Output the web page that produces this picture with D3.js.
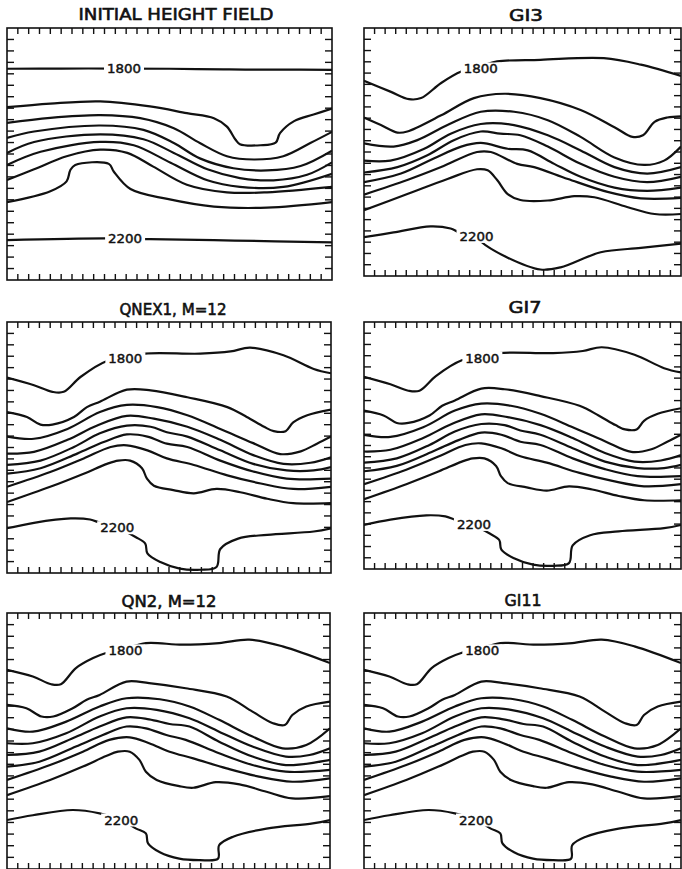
<!DOCTYPE html>
<html>
<head>
<meta charset="utf-8">
<script src="https://cdn.jsdelivr.net/npm/d3@7"></script>
<style>
  html, body { margin: 0; padding: 0; background: #fff; }
  svg { display: block; }
</style>
</head>
<body>
<svg id="chart" width="682" height="869"></svg>
<script>
// ---------------- DATA ----------------
// Contour levels (m); grid is 30 x 23 units (x east, y rows from north edge)
const levels = [1800, 1850, 1900, 1950, 2000, 2050, 2100, 2150, 2200];
const panelTitles = ["INITIAL HEIGHT FIELD", "GI3", "QNEX1, M=12", "GI7", "QN2, M=12", "GI11"];
const gridX = 30, gridY = 23, tickRows = 22;

const initialField = [
  [[0,3.72],[5,3.7],[10,3.7],[15,3.72],[20,3.78],[25,3.8],[30,3.82]],
  [[0,7.23],[4,6.9],[8.6,6.7],[13.2,7.16],[16.6,7.77],[19.1,8.23],[20.3,9.0],[21.1,10.2],[21.5,10.6],[23.4,10.7],[24.8,10.46],[25.2,9.6],[26.5,8.5],[28.3,7.9],[30,7.35]],
  [[0,8.66],[4,8.2],[8.6,7.95],[12.3,8.23],[15.4,9.15],[17.8,10.5],[20.3,11.7],[22.8,12.0],[25.5,11.7],[28,10.5],[30,9.48]],
  [[0,10.03],[2.5,9.45],[8.6,8.9],[12.6,9.3],[15.4,10.5],[17.8,11.9],[20.9,12.8],[24,13.0],[27.1,12.6],[30,11.2]],
  [[0,11.4],[2.5,10.4],[8.6,9.7],[12.6,10.15],[15.4,11.4],[18.5,12.9],[21.5,13.7],[24.6,13.9],[27.7,13.4],[30,12.26]],
  [[0,12.5],[3.1,11.3],[8.6,10.4],[11.7,10.7],[15.1,12.3],[18.5,13.9],[21.5,14.5],[25.5,14.5],[30,13.3]],
  [[0,13.87],[2.5,12.9],[5.5,11.7],[8.6,11.1],[11.1,11.4],[13.5,12.65],[16.6,14.3],[20.3,15.0],[24,15.0],[30,14.5]],
  [[0,15.9],[4.0,14.9],[5.5,14.0],[5.85,12.96],[6.3,12.5],[9.4,12.4],[9.85,13.1],[11.4,14.7],[14.8,15.6],[19.1,16.3],[24,16.4],[30,15.9]],
  [[0,19.36],[9,19.2],[13.2,19.27],[21,19.4],[30,19.57]]
];
const initialLabels = [[10.8, 3.72, 1800], [10.9, 19.25, 2200]];

const gi3Field = [
  [[0,4.9],[2.5,5.9],[4.26,6.6],[5.4,6.5],[7.3,5.1],[9.2,4.04],[11,3.55],[12.6,3.1],[16.7,2.95],[22.7,2.8],[26.2,3.4],[30,4.45]],
  [[0,8.3],[1.6,9.0],[3.16,9.7],[4.1,9.6],[7.3,8.1],[10.4,6.5],[13.3,6.1],[16.7,6.5],[20.5,7.6],[23.7,9.2],[25.4,10.1],[26.4,9.95],[27.5,8.7],[28.7,8.3],[30,8.2]],
  [[0,10.7],[2.8,11.0],[5.05,10.4],[7.9,9.0],[11.05,7.77],[14.2,7.77],[17.4,8.55],[20.5,10.1],[23.7,12.0],[26.5,12.7],[28.4,12.3],[30,11.0]],
  [[0,12.3],[2.5,12.3],[5.7,11.2],[8.2,9.8],[11.05,8.9],[14.2,9.0],[17.4,9.95],[20.5,11.35],[23.7,12.9],[26.8,13.5],[30,12.9]],
  [[0,13.4],[3.16,12.9],[6.0,11.8],[8.5,10.4],[11.05,9.6],[12.9,9.8],[14.8,9.95],[17.4,11.0],[20.5,12.6],[23.7,13.8],[26.8,14.3],[30,13.8]],
  [[0,14.3],[3.5,13.5],[6.6,12.1],[9.2,11.0],[11.05,10.66],[13.6,11.2],[15.5,11.35],[18,12.6],[20.5,13.8],[23.7,14.8],[26.8,15.1],[30,14.8]],
  [[0,15.45],[4.1,14.1],[7.3,12.9],[10.7,11.5],[12,11.5],[14.5,12.6],[16.1,12.9],[19.3,14.0],[23.05,15.2],[26.2,15.8],[30,15.76]],
  [[0,16.9],[4.1,15.4],[7.9,14.0],[10.7,13.1],[11.7,13.2],[12.6,14.1],[13.6,15.4],[14.8,15.95],[17.4,16.0],[19.9,15.6],[21.8,15.7],[24.9,16.6],[27.5,17.25],[30,17.25]],
  [[0,19.4],[2.8,18.96],[6.3,18.4],[8.2,18.6],[9.0,18.96],[10.65,19.33],[11.05,19.8],[13.6,21.3],[16.7,22.4],[18.6,22.2],[22.4,20.8],[26.2,20.4],[30,20.0]]
];
const gi3Labels = [[11.05, 3.8, 1800], [10.65, 19.33, 2200]];

const qnex1Field = [
  [[0,5.1],[2.5,5.8],[4.2,6.4],[5.25,6.4],[6.8,5.04],[9.26,3.57],[10.96,3.3],[12.8,2.9],[17.9,2.9],[20.7,2.7],[22.5,2.35],[25.6,3.05],[28.4,4.3],[30,4.7]],
  [[0,8.25],[1.85,8.7],[3.1,9.4],[4.2,9.4],[6.2,8.7],[7.4,7.8],[8.6,7.3],[11.1,6.2],[13.3,6.26],[16.7,6.9],[20.4,7.8],[22.2,8.7],[23.8,9.6],[24.7,10.0],[25.8,10.0],[26.5,9.2],[27.8,8.55],[30,8.03]],
  [[0,10.5],[2.5,10.7],[5.6,9.8],[8.6,8.25],[11.1,7.6],[13.9,7.8],[16.7,8.55],[19.75,9.8],[22.8,11.1],[25.3,12.1],[27.2,11.85],[28.7,11.15],[30,10.5]],
  [[0,12.06],[2.5,11.9],[5.6,10.8],[8.3,9.5],[11.1,8.6],[13.6,8.86],[16.7,9.6],[19.75,10.8],[22.8,12.2],[25.6,13.0],[28.1,12.9],[30,12.4]],
  [[0,13.1],[3.1,12.7],[6.2,11.45],[8.6,10.2],[11.1,9.5],[13.3,9.6],[14.8,10.1],[16.7,10.5],[19.75,11.76],[22.8,13.0],[25.9,13.6],[28.4,13.6],[30,13.3]],
  [[0,13.9],[3.1,13.4],[6.5,12.06],[8.95,11.0],[11.1,10.3],[13.0,10.5],[14.8,11.15],[16.7,11.45],[19.75,12.7],[22.8,13.7],[25.9,14.35],[30,14.35]],
  [[0,15.1],[4.0,13.75],[7.1,12.5],[9.6,11.45],[11.1,11.3],[13.0,11.76],[14.8,12.5],[17.3,13.1],[20.4,14.05],[23.5,14.8],[26.5,15.3],[30,15.1]],
  [[0,16.5],[4.0,15.1],[7.1,13.9],[9.26,13.0],[10.3,12.7],[11.4,12.7],[12.5,13.4],[12.96,14.36],[13.6,15.0],[15.4,15.4],[17.3,15.7],[19.4,15.3],[21.6,15.6],[24.1,16.2],[26.5,16.6],[30,16.6]],
  [[0,18.9],[2.5,18.4],[5.9,18.0],[7.7,18.1],[8.6,18.4],[10.2,18.85],[11.9,19.7],[12.8,20.3],[13.0,21.2],[14.2,22.0],[16.0,22.6],[17.9,22.7],[19.4,22.45],[19.75,20.8],[21.4,19.85],[24.1,19.5],[28.4,19.2],[30,18.9]]
];
const qnex1Labels = [[10.96, 3.36, 1800], [10.2, 18.85, 2200]];

const gi7Field = [
  [[0,5.1],[2.5,5.8],[4.2,6.4],[5.25,6.4],[6.8,5.04],[9.26,3.57],[10.96,3.3],[12.8,2.9],[17.9,2.9],[20.7,2.7],[22.5,2.35],[25.6,3.05],[28.4,4.3],[30,4.7]],
  [[0,8.25],[1.85,8.7],[3.1,9.4],[4.2,9.4],[6.2,8.7],[7.4,7.8],[8.6,7.3],[11.1,6.2],[13.3,6.26],[16.7,6.9],[20.4,7.8],[22.2,8.7],[23.8,9.6],[24.7,10.0],[25.8,10.0],[26.5,9.2],[27.8,8.55],[30,8.03]],
  [[0,10.5],[2.5,10.7],[5.6,9.8],[8.6,8.25],[11.1,7.6],[13.9,7.8],[16.7,8.55],[19.75,9.8],[22.8,11.1],[25.3,12.1],[27.2,11.85],[28.7,11.15],[30,10.5]],
  [[0,12.06],[2.5,11.9],[5.6,10.8],[8.3,9.5],[11.1,8.6],[13.6,8.86],[16.7,9.6],[19.75,10.8],[22.8,12.2],[25.6,13.0],[28.1,12.9],[30,12.4]],
  [[0,13.1],[3.1,12.7],[6.2,11.45],[8.6,10.2],[11.1,9.5],[13.3,9.6],[14.8,10.1],[16.7,10.5],[19.75,11.76],[22.8,13.0],[25.9,13.6],[28.4,13.6],[30,13.3]],
  [[0,13.9],[3.1,13.4],[6.5,12.06],[8.95,11.0],[11.1,10.3],[13.0,10.5],[14.8,11.15],[16.7,11.45],[19.75,12.7],[22.8,13.7],[25.9,14.35],[30,14.35]],
  [[0,15.1],[4.0,13.75],[7.1,12.5],[9.6,11.45],[11.1,11.3],[13.0,11.76],[14.8,12.5],[17.3,13.1],[20.4,14.05],[23.5,14.8],[26.5,15.3],[30,15.1]],
  [[0,16.5],[4.0,15.1],[7.1,13.9],[9.26,13.0],[10.3,12.7],[11.4,12.7],[12.5,13.4],[12.96,14.36],[13.6,15.0],[15.4,15.4],[17.3,15.7],[19.4,15.3],[21.6,15.6],[24.1,16.2],[26.5,16.6],[30,16.6]],
  [[0,18.9],[2.5,18.4],[5.9,18.0],[7.7,18.1],[8.6,18.4],[10.2,18.85],[11.9,19.7],[12.8,20.3],[13.0,21.2],[14.2,22.0],[16.0,22.6],[17.9,22.7],[19.4,22.45],[19.75,20.8],[21.4,19.85],[24.1,19.5],[28.4,19.2],[30,18.9]]
];
const gi7Labels = [[11.2, 3.36, 1800], [10.4, 18.85, 2200]];

const qn2Field = [
  [[0,5.1],[2.4,5.7],[4.1,6.4],[5.0,6.4],[6.4,4.95],[8.0,4.05],[9.2,3.6],[11,3.2],[12.9,2.7],[16.3,2.85],[19.7,2.7],[22.5,2.4],[25.6,3.0],[30,4.5]],
  [[0,8.26],[1.8,8.56],[3.2,9.3],[4.3,9.3],[6.1,8.56],[7.4,7.8],[8.6,7.36],[11.1,6.16],[13.2,6.3],[16.6,6.76],[20.4,7.5],[22.8,8.86],[24.7,9.9],[25.8,10.06],[26.5,9.16],[27.8,8.4],[30,7.96]],
  [[0,10.36],[2.4,10.66],[5.5,9.76],[8.6,8.4],[11.1,7.66],[14.2,7.75],[16.95,8.4],[19.7,9.6],[22.8,11.1],[25.6,12.16],[27.8,11.86],[30,10.36]],
  [[0,11.7],[2.4,11.7],[5.5,10.8],[8.6,9.3],[11.1,8.56],[13.9,8.7],[16.95,9.46],[19.7,10.66],[22.8,12.0],[25.9,12.9],[28.1,12.76],[30,12.16]],
  [[0,12.76],[3.0,12.46],[6.1,11.26],[8.6,10.2],[11.1,9.37],[13.2,9.55],[15.1,9.97],[16.95,10.2],[19.7,11.56],[22.8,12.9],[25.9,13.66],[30,13.2]],
  [[0,13.8],[3.0,13.36],[6.4,12.0],[8.9,10.96],[11.1,10.2],[12.9,10.36],[14.8,10.96],[16.6,11.4],[19.7,12.6],[22.8,13.66],[25.9,14.26],[30,14.1]],
  [[0,15.0],[4.0,13.66],[7.05,12.46],[9.5,11.4],[11.4,11.17],[13.2,11.7],[15.1,12.46],[17.3,13.06],[20.4,13.96],[23.4,14.7],[26.5,15.16],[30,14.86]],
  [[0,16.36],[4.0,15.0],[7.05,13.8],[9.2,12.85],[10.3,12.46],[11.4,12.46],[12.3,13.2],[12.9,14.26],[13.9,15.0],[16.0,15.56],[17.3,15.7],[19.4,15.2],[21.6,15.4],[24.1,16.06],[26.5,16.66],[30,16.46]],
  [[0,18.6],[2.4,18.17],[6.1,17.7],[8.6,18.0],[10.6,18.6],[12.0,19.37],[12.9,19.8],[13.1,20.7],[14.2,21.5],[16.0,22.07],[17.9,22.2],[19.6,22.07],[19.7,20.87],[21.0,20.1],[24.1,19.37],[28.4,18.9],[30,18.6]]
];
const qn2Labels = [[11.0, 3.4, 1800], [10.6, 18.6, 2200]];

const gi11Field = [
  [[0,5.1],[2.4,5.7],[4.1,6.4],[5.0,6.4],[6.4,4.95],[8.0,4.05],[9.2,3.6],[11,3.2],[12.9,2.7],[16.3,2.85],[19.7,2.7],[22.5,2.4],[25.6,3.0],[30,4.5]],
  [[0,8.26],[1.8,8.56],[3.2,9.3],[4.3,9.3],[6.1,8.56],[7.4,7.8],[8.6,7.36],[11.1,6.16],[13.2,6.3],[16.6,6.76],[20.4,7.5],[22.8,8.86],[24.7,9.9],[25.8,10.06],[26.5,9.16],[27.8,8.4],[30,7.96]],
  [[0,10.36],[2.4,10.66],[5.5,9.76],[8.6,8.4],[11.1,7.66],[14.2,7.75],[16.95,8.4],[19.7,9.6],[22.8,11.1],[25.6,12.16],[27.8,11.86],[30,10.36]],
  [[0,11.7],[2.4,11.7],[5.5,10.8],[8.6,9.3],[11.1,8.56],[13.9,8.7],[16.95,9.46],[19.7,10.66],[22.8,12.0],[25.9,12.9],[28.1,12.76],[30,12.16]],
  [[0,12.76],[3.0,12.46],[6.1,11.26],[8.6,10.2],[11.1,9.37],[13.2,9.55],[15.1,9.97],[16.95,10.2],[19.7,11.56],[22.8,12.9],[25.9,13.66],[30,13.2]],
  [[0,13.8],[3.0,13.36],[6.4,12.0],[8.9,10.96],[11.1,10.2],[12.9,10.36],[14.8,10.96],[16.6,11.4],[19.7,12.6],[22.8,13.66],[25.9,14.26],[30,14.1]],
  [[0,15.0],[4.0,13.66],[7.05,12.46],[9.5,11.4],[11.4,11.17],[13.2,11.7],[15.1,12.46],[17.3,13.06],[20.4,13.96],[23.4,14.7],[26.5,15.16],[30,14.86]],
  [[0,16.36],[4.0,15.0],[7.05,13.8],[9.2,12.85],[10.3,12.46],[11.4,12.46],[12.3,13.2],[12.9,14.26],[13.9,15.0],[16.0,15.56],[17.3,15.7],[19.4,15.2],[21.6,15.4],[24.1,16.06],[26.5,16.66],[30,16.46]],
  [[0,18.6],[2.4,18.17],[6.1,17.7],[8.6,18.0],[10.6,18.6],[12.0,19.37],[12.9,19.8],[13.1,20.7],[14.2,21.5],[16.0,22.07],[17.9,22.2],[19.6,22.07],[19.7,20.87],[21.0,20.1],[24.1,19.37],[28.4,18.9],[30,18.6]]
];
const gi11Labels = [[11.2, 3.4, 1800], [10.6, 18.6, 2200]];

// ---------------- LAYOUT ----------------
const panels = [
  { title: panelTitles[0], field: initialField, labels: initialLabels, box: [7, 28, 332, 280],  tx: 176, ty: 20,  tw: 195 },
  { title: panelTitles[1], field: gi3Field,     labels: gi3Labels,     box: [364, 28, 681, 276], tx: 526, ty: 21,  tw: 34 },
  { title: panelTitles[2], field: qnex1Field,   labels: qnex1Labels,   box: [7, 322, 331, 573],  tx: 173, ty: 315, tw: 107 },
  { title: panelTitles[3], field: gi7Field,     labels: gi7Labels,     box: [364, 322, 681, 569],tx: 525, ty: 313, tw: 33 },
  { title: panelTitles[4], field: qn2Field,     labels: qn2Labels,     box: [7, 613, 330, 869],  tx: 169, ty: 607, tw: 95 },
  { title: panelTitles[5], field: gi11Field,    labels: gi11Labels,    box: [364, 613, 681, 869],tx: 523, ty: 606, tw: 37 }
];

const svg = d3.select("#chart");
const ink = "#111";

panels.forEach(p => {
  const [x0, y0, x1, y1] = p.box;
  const g = svg.append("g");
  const x = d3.scaleLinear().domain([0, gridX]).range([x0, x1]);
  const y = d3.scaleLinear().domain([0, gridY]).range([y0, y1]);
  const yt = d3.scaleLinear().domain([0, tickRows]).range([y0, y1]);

  // title
  g.append("text")
    .attr("x", p.tx).attr("y", p.ty)
    .attr("text-anchor", "middle")
    .attr("font-family", "DejaVu Sans, sans-serif")
    .attr("font-size", 16)
    .attr("font-weight", "normal")
    .attr("stroke", ink).attr("stroke-width", 0.6)
    .attr("textLength", p.tw)
    .attr("lengthAdjust", "spacingAndGlyphs")
    .attr("fill", ink)
    .text(p.title);

  // clip for contours
  const clipId = "clip" + x0 + "_" + y0;
  svg.append("clipPath").attr("id", clipId)
    .append("rect").attr("x", x0).attr("y", y0).attr("width", x1 - x0).attr("height", y1 - y0);

  const line = d3.line()
    .x(d => x(d[0])).y(d => y(d[1]))
    .curve(d3.curveCatmullRom.alpha(0.5));

  const cg = g.append("g").attr("clip-path", `url(#${clipId})`);
  cg.selectAll("path.contour")
    .data(p.field)
    .join("path")
    .attr("class", "contour")
    .attr("d", line)
    .attr("fill", "none")
    .attr("stroke", ink)
    .attr("stroke-width", 2.2)
    .attr("stroke-linejoin", "round");

  // contour labels
  const lg = cg.selectAll("g.lab").data(p.labels).join("g").attr("class", "lab")
    .attr("transform", d => `translate(${x(d[0])},${y(d[1])})`);
  lg.append("rect").attr("x", -20).attr("y", -6.5).attr("width", 40).attr("height", 13).attr("fill", "#fff");
  lg.append("text")
    .attr("text-anchor", "middle").attr("dy", "0.36em")
    .attr("font-family", "DejaVu Sans, sans-serif")
    .attr("font-size", 12.5)
    .attr("stroke", ink).attr("stroke-width", 0.45)
    .attr("textLength", 34).attr("lengthAdjust", "spacingAndGlyphs")
    .attr("fill", ink)
    .text(d => d[2]);

  // box
  g.append("rect")
    .attr("x", x0).attr("y", y0).attr("width", x1 - x0).attr("height", y1 - y0)
    .attr("fill", "none").attr("stroke", ink).attr("stroke-width", 1.6);

  // ticks, inward on all four sides
  const xt = d3.range(1, gridX);
  const ytk = d3.range(1, tickRows);
  const tg = g.append("g").attr("stroke", ink).attr("stroke-width", 1.4);
  tg.selectAll("line.tt").data(xt).join("line").attr("class", "tt")
    .attr("x1", d => x(d)).attr("x2", d => x(d)).attr("y1", y0).attr("y2", y0 + 6);
  tg.selectAll("line.tb").data(xt).join("line").attr("class", "tb")
    .attr("x1", d => x(d)).attr("x2", d => x(d)).attr("y1", y1).attr("y2", y1 - 6);
  tg.selectAll("line.tlft").data(ytk).join("line").attr("class", "tlft")
    .attr("x1", x0).attr("x2", x0 + 7).attr("y1", d => yt(d)).attr("y2", d => yt(d));
  tg.selectAll("line.trt").data(ytk).join("line").attr("class", "trt")
    .attr("x1", x1).attr("x2", x1 - 7).attr("y1", d => yt(d)).attr("y2", d => yt(d));
});
</script>
</body>
</html>
